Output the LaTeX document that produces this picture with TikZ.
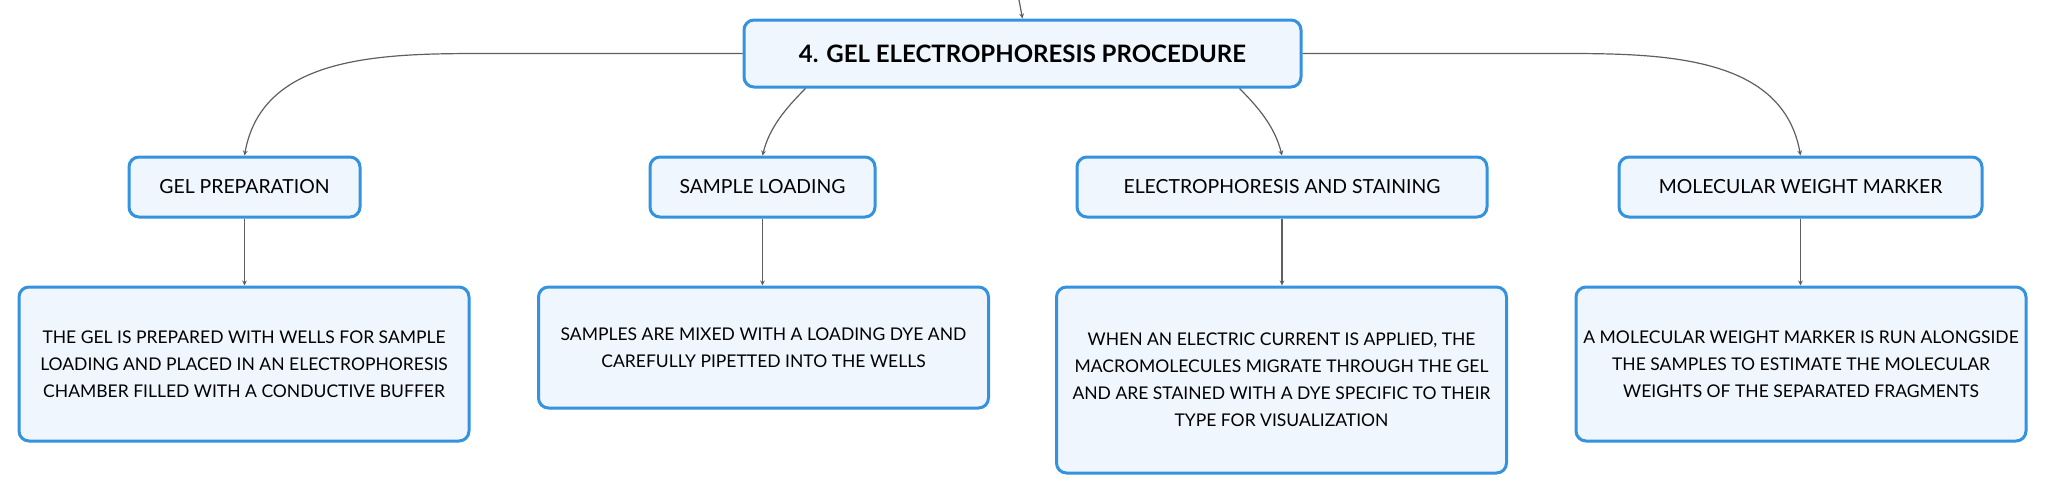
\documentclass[tikz,border=0pt]{standalone}
\usepackage{fontspec}
\setmainfont{Lato}
\usetikzlibrary{arrows.meta,positioning,calc}
\definecolor{boxblue}{RGB}{52,146,222}
\definecolor{boxfill}{RGB}{239,246,253}
\definecolor{linkgray}{RGB}{95,95,95}

\tikzset{
    topic/.style={draw=boxblue, line width=1.5pt, rounded corners=5pt,
          fill=boxfill, align=center, inner sep=0pt,
          font=\fontsize{12}{15}\selectfont\bfseries},
    subtopic/.style={draw=boxblue, line width=1.5pt, rounded corners=5pt,
          fill=boxfill, align=center, inner sep=0pt, minimum height=30pt,
          font=\fontsize{9.7}{12}\selectfont},
    detail/.style={draw=boxblue, line width=1.5pt, rounded corners=5pt,
          fill=boxfill, align=center, inner sep=0pt, minimum width=225pt,
          font=\fontsize{8.75}{13.5}\selectfont},
    link/.style={draw=linkgray, line width=0.6pt,
          -{Stealth[length=2.5pt,width=2.4pt]}}
}

\begin{document}
\begin{tikzpicture}[x=0.5pt, y=-0.5pt]
    \useasboundingbox (0,0) rectangle (2046,494);

    % main topic
    \node[topic, minimum width=278.5pt, minimum height=33.5pt] (main) at (1022.5,53.5)
        {4. GEL ELECTROPHORESIS PROCEDURE};
    \coordinate (parent) at (1019,0);

    % steps
    \node[subtopic, minimum width=115.5pt] (gel) at (244.5,187) {GEL PREPARATION};
    \node[subtopic, minimum width=112.5pt] (sample) at (762.5,187) {SAMPLE LOADING};
    \node[subtopic, minimum width=205pt] (electro) at (1282,187) {ELECTROPHORESIS AND STAINING};
    \node[subtopic, minimum width=181.5pt] (mwm) at (1800.5,187) {MOLECULAR WEIGHT MARKER};

    % details
    \node[detail, minimum height=77pt] (gelinfo) at (244,364)
        {THE GEL IS PREPARED WITH WELLS FOR SAMPLE\\
         LOADING AND PLACED IN AN ELECTROPHORESIS\\
         CHAMBER FILLED WITH A CONDUCTIVE BUFFER};
    \node[detail, minimum height=60.5pt] (sampleinfo) at (763.5,347.5)
        {SAMPLES ARE MIXED WITH A LOADING DYE AND\\
         CAREFULLY PIPETTED INTO THE WELLS};
    \node[detail, minimum height=93pt] (electroinfo) at (1281.5,380)
        {WHEN AN ELECTRIC CURRENT IS APPLIED, THE\\
         MACROMOLECULES MIGRATE THROUGH THE GEL\\
         AND ARE STAINED WITH A DYE SPECIFIC TO THEIR\\
         TYPE FOR VISUALIZATION};
    \node[detail, minimum height=77pt] (mwminfo) at (1801,364)
        {A MOLECULAR WEIGHT MARKER IS RUN ALONGSIDE\\
         THE SAMPLES TO ESTIMATE THE MOLECULAR\\
         WEIGHTS OF THE SEPARATED FRAGMENTS};

    % connectors
    \coordinate (samplefoot) at ($(main.south)+(-217,0)$);
    \coordinate (electrofoot) at ($(main.south)+(217,0)$);
    \draw[link] (parent) -- (main.north);
    \draw[link] (main.west) -- ++(-256,0) to[out=180,in=80] (gel.north);
    \draw[link] (main.east) -- ++(262,0) to[out=0,in=100] (mwm.north);
    \draw[link] (samplefoot) .. controls ($(samplefoot)+(-20,20)$)
        and ($(sample.north)+(7,-28)$) .. (sample.north);
    \draw[link] (electrofoot) .. controls ($(electrofoot)+(20,20)$)
        and ($(electro.north)+(-7,-28)$) .. (electro.north);
    \foreach \step/\info in {gel/gelinfo, sample/sampleinfo, electro/electroinfo, mwm/mwminfo}
        \draw[link] (\step.south) -- (\step.south |- \info.north);
\end{tikzpicture}
\end{document}
